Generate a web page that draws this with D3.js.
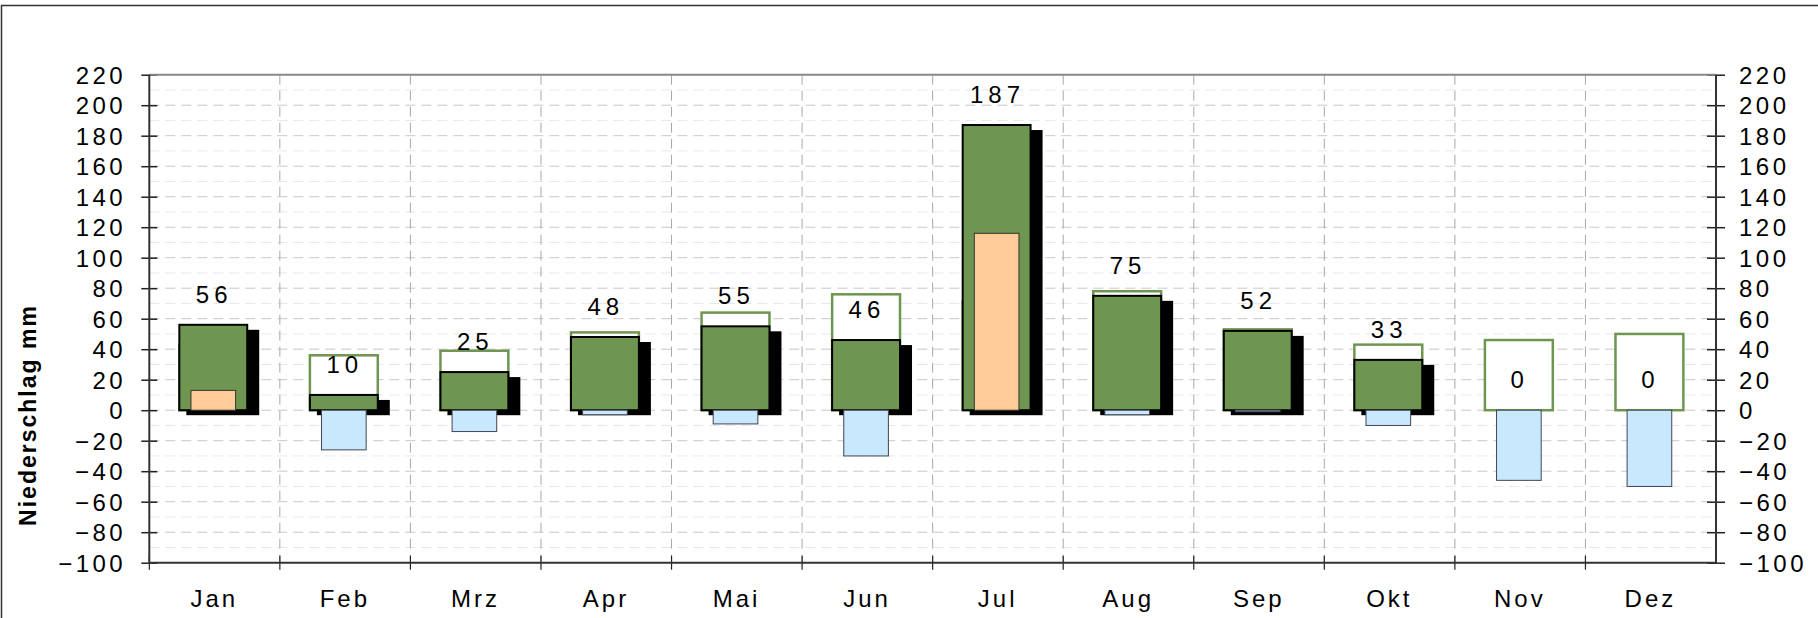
<!DOCTYPE html>
<html>
<head>
<meta charset="utf-8">
<script src="https://cdn.jsdelivr.net/npm/d3@7"></script>
<style>
  body { margin: 0; background: #fff; }
  text { font-family: "Liberation Sans", Arial, sans-serif; fill: #000; }
</style>
</head>
<body>
<svg width="1818" height="618"></svg>
<script>
// the data
var months = ["Jan", "Feb", "Mrz", "Apr", "Mai", "Jun", "Jul", "Aug", "Sep", "Okt", "Nov", "Dez"];
var precip = [56, 10, 25, 48, 55, 46, 187, 75, 52, 33, 0, 0];        // Niederschlag
var normal = [43, 36, 39, 51, 64, 76, 71, 78, 53, 43, 46, 50];       // langjähriges Mittel
var diff   = [13, -26, -14, -3, -9, -30, 116, -3, -1, -10, -46, -50]; // Abweichung
var yTicks = d3.range(-100, 221, 20);
var yMinor = d3.range(-90, 220, 20);

var svg = d3.select("svg");

// plot area (note: "top" is reserved on window, so use prefixed names)
var pLeft = 149.3, pRight = 1716, pTop = 74.7, pBottom = 562.7;

var x = d3.scaleBand().domain(months).range([pLeft, pRight]);
var y = d3.scaleLinear().domain([-100, 220]).range([pBottom, pTop]);
var bw = x.bandwidth();

var rows = months.map(function(m, i) {
    return {m: m, p: precip[i], n: normal[i], d: diff[i]};
});

// outer frame (left + top)
svg.append("path")
    .attr("d", "M1.5,640V5.5H1818")
    .attr("fill", "none")
    .attr("stroke", "#333")
    .attr("stroke-width", 1.5);

//////////// GRID ////////////
var grid = svg.append("g");

grid.selectAll(".minor")
    .data(yMinor)
    .enter().append("line")
    .attr("x1", pLeft).attr("x2", pRight)
    .attr("y1", function(d) { return y(d); })
    .attr("y2", function(d) { return y(d); })
    .attr("stroke", "#e6e6f4")
    .attr("stroke-dasharray", "10,6");

grid.selectAll(".major")
    .data(yTicks.filter(function(d) { return d > -100 && d < 220; }))
    .enter().append("line")
    .attr("x1", pLeft).attr("x2", pRight)
    .attr("y1", function(d) { return y(d); })
    .attr("y2", function(d) { return y(d); })
    .attr("stroke", "#c8c8c8")
    .attr("stroke-dasharray", "10,6");

grid.selectAll(".vgrid")
    .data(months.slice(1))
    .enter().append("line")
    .attr("x1", function(d) { return x(d); })
    .attr("x2", function(d) { return x(d); })
    .attr("y1", pTop).attr("y2", pBottom)
    .attr("stroke", "#a8a8a8")
    .attr("stroke-dasharray", "10,6");

//////////// BARS ////////////
var wide = bw * 0.52, narrow = bw * 0.342;
function cx(d) { return x(d.m) + bw / 2 - 1.3; }

// normal values (white, green outline)
svg.append("g").selectAll("rect")
    .data(rows)
    .enter().append("rect")
    .attr("x", function(d) { return cx(d) - wide / 2; })
    .attr("y", function(d) { return y(d.n); })
    .attr("width", wide)
    .attr("height", function(d) { return y(0) - y(d.n); })
    .attr("fill", "#fff")
    .attr("stroke", "#6f9650")
    .attr("stroke-width", 2.5);

var rain = rows.filter(function(d) { return d.p > 0; });

// shadows
svg.append("g").selectAll("rect")
    .data(rain)
    .enter().append("rect")
    .attr("x", function(d) { return cx(d) - wide / 2 + 7; })
    .attr("y", function(d) { return y(d.p) + 5; })
    .attr("width", wide + 5)
    .attr("height", function(d) { return y(0) - y(d.p); })
    .attr("fill", "#000");

// precipitation
svg.append("g").selectAll("rect")
    .data(rain)
    .enter().append("rect")
    .attr("x", function(d) { return cx(d) - wide / 2; })
    .attr("y", function(d) { return y(d.p); })
    .attr("width", wide)
    .attr("height", function(d) { return y(0) - y(d.p); })
    .attr("fill", "#6f9650")
    .attr("stroke", "#000")
    .attr("stroke-width", 2);

// deviation
svg.append("g").selectAll("rect")
    .data(rows)
    .enter().append("rect")
    .attr("x", function(d) { return cx(d) - narrow / 2; })
    .attr("y", function(d) { return y(Math.max(0, d.d)); })
    .attr("width", narrow)
    .attr("height", function(d) { return Math.abs(y(d.d) - y(0)); })
    .attr("fill", function(d) { return d.d > 0 ? "#ffcc99" : "#c8e8fe"; })
    .attr("stroke", function(d) { return d.d > 0 ? "#333" : "#445"; })
    .attr("stroke-width", 1);

// value labels
svg.append("g").selectAll("text")
    .data(rows)
    .enter().append("text")
    .attr("x", function(d) { return cx(d) + 0.9; })
    .attr("y", function(d) { return y(d.p) - 22; })
    .attr("text-anchor", "middle")
    .style("font-size", "24px")
    .style("letter-spacing", "5px")
    .text(function(d) { return d.p; });

//////////// AXES ////////////
var ls = 3.5;

var yl = svg.append("g")
    .attr("transform", "translate(" + pLeft + ",0)")
    .call(d3.axisLeft(y).tickValues(yTicks).tickSize(8).tickPadding(18.6 - ls));
yl.select(".domain").remove();
yl.selectAll(".tick line").attr("x1", 8).attr("stroke", "#222").attr("stroke-width", 1.5);
yl.selectAll(".tick text")
    .attr("dy", "0.36em")
    .style("font-size", "24px")
    .style("letter-spacing", ls + "px")
    .style("font-family", "Liberation Sans, Arial, sans-serif");

var yr = svg.append("g")
    .attr("transform", "translate(" + pRight + ",0)")
    .call(d3.axisRight(y).tickValues(yTicks).tickSize(9).tickPadding(14));
yr.select(".domain").remove();
yr.selectAll(".tick line").attr("x1", -9).attr("stroke", "#222").attr("stroke-width", 1.5);
yr.selectAll(".tick text")
    .attr("dy", "0.36em")
    .style("font-size", "24px")
    .style("letter-spacing", ls + "px")
    .style("font-family", "Liberation Sans, Arial, sans-serif");

var xb = svg.append("g")
    .attr("transform", "translate(0," + pBottom + ")")
    .call(d3.axisBottom(x).tickSize(0).tickPadding(27));
xb.select(".domain").remove();
xb.selectAll(".tick text")
    .attr("dx", "-0.3px")
    .style("font-size", "24px")
    .style("letter-spacing", "3px")
    .style("font-family", "Liberation Sans, Arial, sans-serif");

// category boundary ticks
svg.append("g").selectAll("line")
    .data(months.slice(1).map(function(m) { return x(m); }).concat([pLeft]))
    .enter().append("line")
    .attr("x1", function(d) { return d; })
    .attr("x2", function(d) { return d; })
    .attr("y1", pBottom - 7).attr("y2", pBottom + 7)
    .attr("stroke", "#222")
    .attr("stroke-width", 1.2);

// plot frame: top gray, other sides dark
svg.append("line")
    .attr("x1", pLeft).attr("x2", pRight)
    .attr("y1", pTop).attr("y2", pTop)
    .attr("stroke", "#888").attr("stroke-width", 2);
svg.append("path")
    .attr("d", "M" + pLeft + "," + pTop + "V" + pBottom + "H" + pRight + "V" + pTop)
    .attr("fill", "none")
    .attr("stroke", "#333")
    .attr("stroke-width", 2);

// y axis title
svg.append("text")
    .attr("transform", "translate(36,415) rotate(-90)")
    .attr("text-anchor", "middle")
    .style("font-size", "23px")
    .style("font-weight", "bold")
    .style("letter-spacing", "2px")
    .text("Niederschlag mm");
</script>
</body>
</html>
